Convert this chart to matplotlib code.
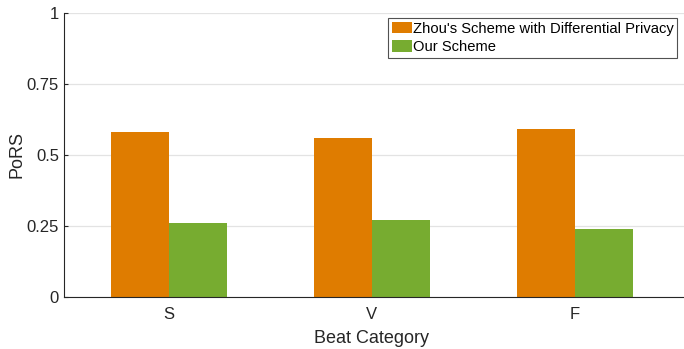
import matplotlib
matplotlib.use("Agg")
import matplotlib.pyplot as plt
import numpy as np

plt.rcParams['font.family'] = ['Liberation Sans', 'DejaVu Sans']

categories = ['S', 'V', 'F']
zhou_dp = [0.58, 0.56, 0.59]
our_scheme = [0.26, 0.27, 0.24]
series_labels = ["Zhou's Scheme with Differential Privacy", "Our Scheme"]
yticks = [0, 0.25, 0.5, 0.75, 1]
ytick_labels = ['0', '0.25', '0.5', '0.75', '1']

W, H = 684, 349
fig = plt.figure(figsize=(W / 100, H / 100), dpi=100)
ax = fig.add_axes([64 / W, 52 / H, (W - 64) / W, 284 / H])

x = np.arange(1, len(categories) + 1)
bw = 0.286
ax.bar(x - bw / 2, zhou_dp, bw, color='#DF7C00', label=series_labels[0], zorder=2)
ax.bar(x + bw / 2, our_scheme, bw, color='#77AC30', label=series_labels[1], zorder=2)

ax.set_xlim(0.483, 3.537)
ax.set_ylim(0, 1)
ax.set_xticks(x)
ax.set_xticklabels(categories)
ax.set_yticks(yticks)
ax.set_yticklabels(ytick_labels)
ax.yaxis.grid(True, color='#e3e3e3', linewidth=0.9, zorder=0)
ax.set_axisbelow(True)
for s in ['top', 'right']:
    ax.spines[s].set_visible(False)
for s in ['left', 'bottom']:
    ax.spines[s].set_color('#262626')
    ax.spines[s].set_linewidth(0.8)
ax.tick_params(direction='in', length=3, width=0.8, colors='#262626',
               labelsize=12, labelcolor='#262626')
ax.tick_params(axis='y', pad=3.6)
ax.tick_params(axis='x', pad=7.5)
ax.set_xlabel('Beat Category', fontsize=13, color='#262626')
ax.set_ylabel('PoRS', fontsize=13, color='#262626')
ax.xaxis.set_label_coords(0.5 + (372 - (64 + 310)) / 620, -0.116)
ax.yaxis.set_label_coords(-0.0613, 0.5)

leg = ax.legend(loc='upper right', bbox_to_anchor=(1 - 7 / 620, 1 - 5 / 284),
                fontsize=10.6, frameon=True, fancybox=False, borderpad=0.25,
                handlelength=1.37, handleheight=0.85, handletextpad=0.05,
                labelspacing=0.3, borderaxespad=0)
leg.get_frame().set_edgecolor('#262626')
leg.get_frame().set_linewidth(0.8)

fig.savefig('out.png', dpi=100)
